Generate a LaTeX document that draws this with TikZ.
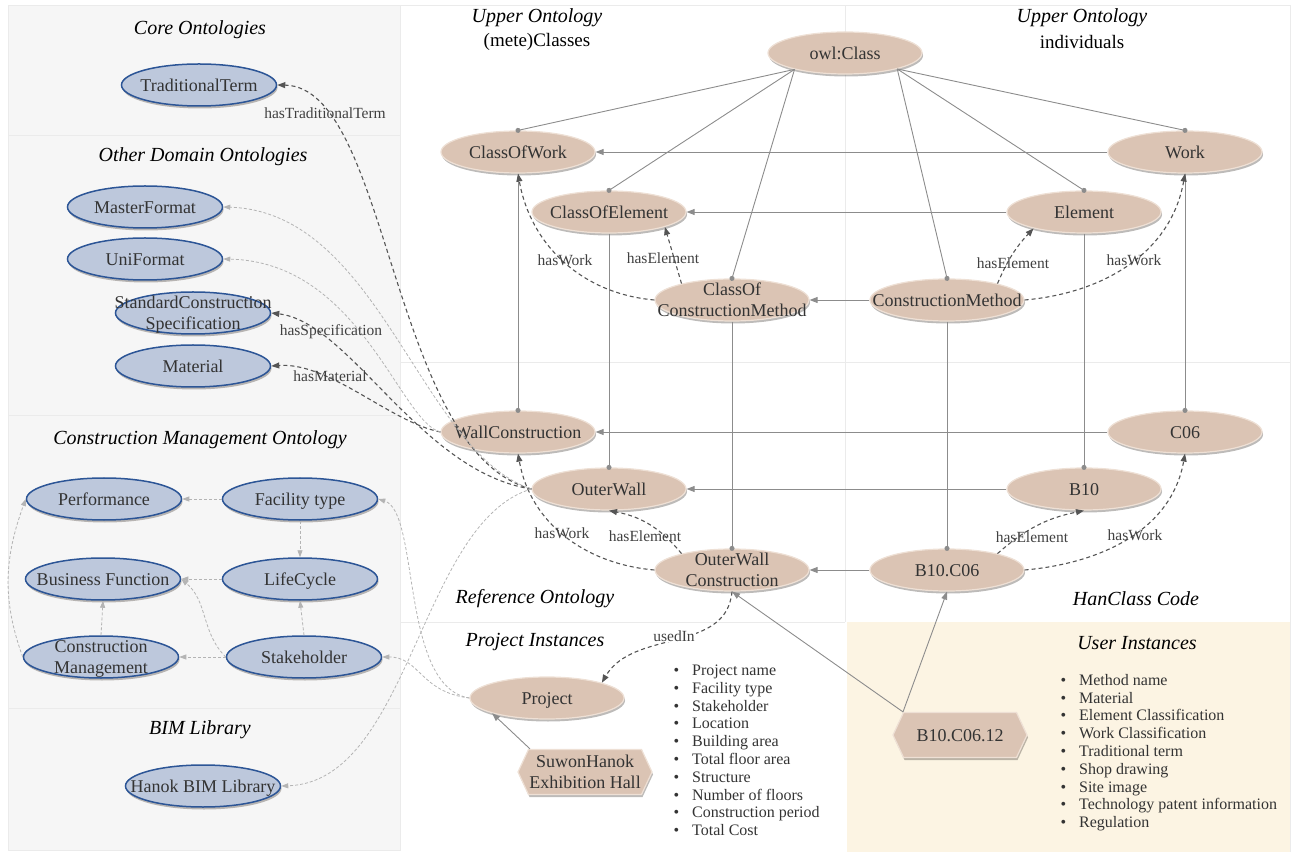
\documentclass[tikz,border=0pt]{standalone}
\usepackage{fontspec}
\setmainfont{Liberation Serif}
\usetikzlibrary{arrows.meta,shapes.geometric,shapes.symbols,shadows}

\definecolor{beige}{HTML}{DBC4B4}
\definecolor{beigerim}{HTML}{EEE0D5}
\definecolor{paleblue}{HTML}{BDC8DC}
\definecolor{darkblue}{HTML}{2C5596}
\definecolor{panelgray}{HTML}{F6F6F6}
\definecolor{cream}{HTML}{FCF4E3}
\definecolor{edgegray}{HTML}{8C8C8C}
\definecolor{relgray}{HTML}{555555}
\definecolor{extgray}{HTML}{B4B4B4}

\newcommand{\nodefont}{\fontsize{18}{21}\selectfont}
\newcommand{\headfont}{\fontsize{20}{24}\selectfont\itshape}
\newcommand{\relfont}{\fontsize{15.5}{18}\selectfont}
\newcommand{\listfont}{\fontsize{16}{17.8}\selectfont}
% text that may run over the border of its shape, as in the figure
\newcommand{\ontext}[1]{\smash{\makebox[0pt]{\raisebox{-6.3pt}{\begin{tabular}{@{}c@{}}#1\end{tabular}}}}}

\begin{document}
\begin{tikzpicture}[x=1pt,y=1pt,
  nodeshadow/.style={drop shadow={shadow xshift=1pt,shadow yshift=-2.5pt,opacity=0.35,fill=black!70!beige}},
  upnode/.style={ellipse,fill=beige,draw=beigerim,line width=1.2pt,minimum width=154pt,minimum height=42pt,
    inner sep=0pt,font=\nodefont,text=black!80,nodeshadow},
  ontonode/.style={ellipse,fill=paleblue,draw=darkblue,line width=1.5pt,minimum width=155pt,minimum height=42pt,
    inner sep=0pt,font=\nodefont,text=black!80,nodeshadow},
  instnode/.style={signal,signal to=west and east,signal pointer angle=130,fill=beige,draw=beigerim,line width=1.2pt,
    minimum width=134pt,minimum height=45pt,inner sep=0pt,font=\nodefont,text=black!80,nodeshadow},
  heading/.style={font=\headfont},
  rellabel/.style={font=\relfont,text=black!75,inner sep=1pt},
  memberline/.style={draw=edgegray,line width=0.9pt,-{Circle[length=5pt]},shorten >=-2.5pt},
  subline/.style={draw=edgegray,line width=0.9pt,-{Triangle[length=8pt,width=6pt]}},
  relline/.style={draw=relgray,line width=1.1pt,dash pattern=on 4pt off 3pt,-{Triangle[length=8pt,width=6pt]}},
  extline/.style={draw=extgray,line width=0.8pt,dash pattern=on 3pt off 2pt,-{Triangle[length=7pt,width=5pt]}}]
\useasboundingbox (0,0) rectangle (1292,852);

% backgrounds
\fill[panelgray] (8,2) rectangle (400,847);
\fill[cream] (847,0) rectangle (1290,230);
\draw[black!8] (8,2) rectangle (400,847);
\draw[black!8] (8,717) -- (400,717);
\draw[black!8] (8,437) -- (400,437);
\draw[black!8] (8,144) -- (400,144);
\draw[black!8] (400,847) -- (1290,847) -- (1290,0);
\draw[black!8] (845,230) -- (845,847);
\draw[black!8] (400,490) -- (1290,490);
\draw[black!8] (400,230) -- (845,230);

% headings
\node[heading] (hcore) at (200,822) {Core Ontologies};
\node[heading] (hother) at (203,695) {Other Domain Ontologies};
\node[heading] (hcm) at (200,412) {Construction Management Ontology};
\node[heading] (hbim) at (200,122) {BIM Library};
\node[heading] (hupl) at (537,834) {Upper Ontology};
\node[font=\fontsize{19}{22}\selectfont] (hcls) at (537,810) {(mete)Classes};
\node[heading] (hupr) at (1082,834) {Upper Ontology};
\node[font=\fontsize{19}{22}\selectfont] (hind) at (1082,810) {individuals};
\node[heading] (href) at (535,253) {Reference Ontology};
\node[heading] (hhan) at (1136,253) {HanClass Code};
\node[heading] (hproj) at (535,210) {Project Instances};
\node[heading] (huser) at (1137,209) {User Instances};

% upper ontology
\node[upnode] (owl) at (845,799) {\ontext{owl:Class}};
\node[upnode] (cow) at (518,700) {\ontext{ClassOfWork}};
\node[upnode] (coe) at (609,640) {\ontext{ClassOfElement}};
\node[upnode] (ccm) at (732,552) {\ontext{ClassOf\\ConstructionMethod}};
\node[upnode] (work) at (1185,700) {\ontext{Work}};
\node[upnode] (elem) at (1084,640) {\ontext{Element}};
\node[upnode] (cm) at (947,552) {\ontext{ConstructionMethod}};

% reference ontology
\node[upnode] (wallc) at (518,420) {\ontext{WallConstruction}};
\node[upnode] (outer) at (609,363) {\ontext{OuterWall}};
\node[upnode] (owc) at (732,282) {\ontext{OuterWall\\Construction}};
\node[upnode] (c06) at (1185,420) {\ontext{C06}};
\node[upnode] (b10) at (1084,363) {\ontext{B10}};
\node[upnode] (b1006) at (947,282) {\ontext{B10.C06}};

% instances
\node[upnode] (project) at (547,154) {\ontext{Project}};
\node[instnode] (suwon) at (585,80) {\ontext{SuwonHanok\\Exhibition Hall}};
\node[instnode] (b100612) at (960,117) {\ontext{B10.C06.12}};

% left panel
\node[ontonode] (tradterm) at (199,767) {\ontext{TraditionalTerm}};
\node[ontonode] (masterf) at (145,645) {\ontext{MasterFormat}};
\node[ontonode] (unif) at (145,593) {\ontext{UniFormat}};
\node[ontonode] (stdspec) at (193,539) {\ontext{StandardConstruction\\Specification}};
\node[ontonode] (material) at (193,486) {\ontext{Material}};
\node[ontonode] (perf) at (104,353) {\ontext{Performance}};
\node[ontonode] (facility) at (300,353) {\ontext{Facility type}};
\node[ontonode] (business) at (103,273) {\ontext{Business Function}};
\node[ontonode] (lifecycle) at (300,273) {\ontext{LifeCycle}};
\node[ontonode] (cmgmt) at (101,195) {\ontext{Construction\\Management}};
\node[ontonode] (stake) at (304,195) {\ontext{Stakeholder}};
\node[ontonode] (bimlib) at (203,66) {\ontext{Hanok BIM Library}};

% property lists
\node[font=\listfont,text=black!80,anchor=west] (projlist) at (670,100) {\begin{tabular}{@{}l@{\hspace{13pt}}l@{}}
\textbullet & Project name\\ \textbullet & Facility type\\ \textbullet & Stakeholder\\ \textbullet & Location\\
\textbullet & Building area\\ \textbullet & Total floor area\\ \textbullet & Structure\\ \textbullet & Number of floors\\
\textbullet & Construction period\\ \textbullet & Total Cost\end{tabular}};
\node[font=\listfont,text=black!80,anchor=west] (userlist) at (1057,99) {\begin{tabular}{@{}l@{\hspace{13pt}}l@{}}
\textbullet & Method name\\ \textbullet & Material\\ \textbullet & Element Classification\\ \textbullet & Work Classification\\
\textbullet & Traditional term\\ \textbullet & Shop drawing\\ \textbullet & Site image\\
\textbullet & Technology patent information\\ \textbullet & Regulation\end{tabular}};

% owl:Class members
\path[memberline] (owl.198) -- (cow.north);
\path[memberline] (owl.198) -- (coe.north);
\path[memberline] (owl.198) -- (ccm.north);
\path[memberline] (owl.343) -- (cm.north);
\path[memberline] (owl.343) -- (elem.north);
\path[memberline] (owl.343) -- (work.north);

% individuals to classes
\path[subline] (work.west) -- (cow.east);
\path[subline] (elem.west) -- (coe.east);
\path[subline] (cm.west) -- (ccm.east);
\path[subline] (c06.west) -- (wallc.east);
\path[subline] (b10.west) -- (outer.east);
\path[subline] (b1006.west) -- (owc.east);

% reference members
\path[memberline] (cow.south) -- (wallc.north);
\path[memberline] (coe.south) -- (outer.north);
\path[memberline] (ccm.south) -- (owc.north);
\path[memberline] (cm.south) -- (b1006.north);
\path[memberline] (elem.south) -- (b10.north);
\path[memberline] (work.south) -- (c06.north);

% object properties
\path[relline] (ccm.west) to[out=175,in=-80] (cow.south);
\path[relline] (ccm.162) -- (coe.-15);
\path[relline] (cm.18) to[bend left=10] (elem.198);
\path[relline] (cm.east) to[out=5,in=-100] (work.south);
\path[relline] (owc.west) to[out=175,in=-80] (wallc.south);
\path[relline] (owc.162) to[bend right=20] (outer.south);
\path[relline] (b1006.18) to[bend left=15] (b10.south);
\path[relline] (b1006.east) to[out=5,in=-100] (c06.south);
\path[relline] (owc.south) to[out=-95,in=60] (project.north east);
\node[rellabel] (lw1) at (565,592) {hasWork};
\node[rellabel] (le1) at (663,594) {hasElement};
\node[rellabel] (le2) at (1013,589) {hasElement};
\node[rellabel] (lw2) at (1134,592) {hasWork};
\node[rellabel] (lw3) at (562,319) {hasWork};
\node[rellabel] (le3) at (645,316) {hasElement};
\node[rellabel] (le4) at (1032,315) {hasElement};
\node[rellabel] (lw4) at (1135,317) {hasWork};
\node[rellabel,fill=white] (lu) at (674,216) {usedIn};

% links to other ontologies
\path[relline] (outer.west) .. controls (390,400) and (390,765) .. (tradterm.east);
\path[relline] (outer.west) .. controls (420,380) and (350,530) .. (stdspec.east);
\path[relline] (wallc.west) .. controls (390,430) and (330,490) .. (material.east);
\path[extline] (outer.west) .. controls (420,400) and (380,640) .. (masterf.east);
\path[extline] (wallc.west) .. controls (400,430) and (360,590) .. (unif.east);
\path[extline] (outer.west) .. controls (420,330) and (410,70) .. (bimlib.east);
\node[rellabel] (ltt) at (325,739) {hasTraditionalTerm};
\node[rellabel] (lsp) at (331,520) {hasSpecification};
\node[rellabel] (lma) at (330,476) {hasMaterial};

% construction management
\path[extline] (facility.west) -- (perf.east);
\path[extline] (facility.south) -- (lifecycle.north);
\path[extline] (lifecycle.west) -- (business.east);
\path[extline] (stake.north) -- (lifecycle.south);
\path[extline] (stake.west) -- (cmgmt.east);
\path[extline] (stake.west) to[out=135,in=-40] (business.east);
\path[extline] (cmgmt.north) -- (business.south);
\path[extline] (cmgmt.west) to[out=110,in=-110] (perf.west);
\path[extline] (project.west) .. controls (400,165) and (420,340) .. (facility.east);
\path[extline] (project.west) .. controls (420,160) and (420,195) .. (stake.east);

% instance links
\path[subline] ([xshift=-55pt]suwon.north) -- (project.south west);
\path[subline] ([xshift=-57pt]b100612.north) -- (b1006.south);
\path[subline] ([xshift=-57pt]b100612.north) -- (owc.south);
\end{tikzpicture}
\end{document}
